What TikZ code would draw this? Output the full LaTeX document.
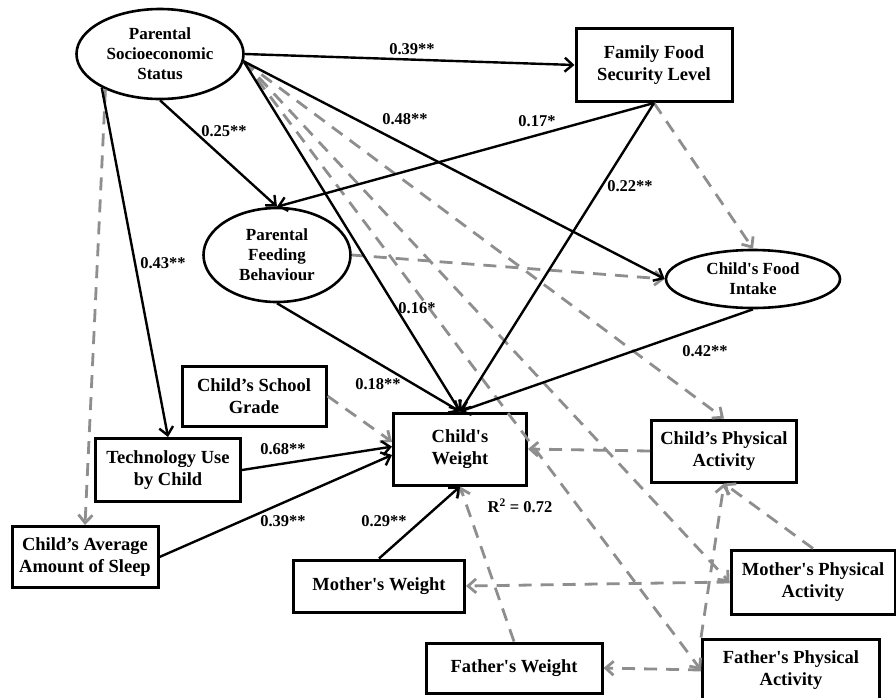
\documentclass[tikz,border=0pt]{standalone}
\usepackage{fontspec}
\setmainfont{Liberation Serif}[Ligatures=TeXOff]
\usetikzlibrary{shapes.geometric,arrows.meta}
\definecolor{covgray}{HTML}{8E8E8E}

\begin{document}
\begin{tikzpicture}[x=1pt,y=-1pt,
  box/.style={draw,line width=3pt,align=center,inner sep=0pt,font=\fontsize{18.5}{21.5}\selectfont\bfseries},
  lat/.style={draw,ellipse,line width=2.6pt,align=center,inner sep=0pt,font=\fontsize{17}{20}\selectfont\bfseries},
  coef/.style={inner sep=0pt,font=\fontsize{16.5}{18}\selectfont\bfseries},
  arr/.style={-{Straight Barb[length=8pt,width=14pt]},line width=2.4pt},
  cov/.style={-{Straight Barb[length=8pt,width=14pt]},line width=2.8pt,covgray,dash pattern=on 13pt off 9pt}]
\useasboundingbox (0,0) rectangle (896,697);
% latent variables
\node[lat,minimum width=167pt,minimum height=90pt] (ses) at (160,54) {Parental\\Socioeconomic\\Status};
\node[lat,minimum width=147pt,minimum height=94pt] (feed) at (277,255) {Parental\\Feeding\\Behaviour};
\node[lat,minimum width=174pt,minimum height=58pt] (intake) at (753,279) {Child's Food\\Intake};
% observed variables
\node[box,minimum width=156pt,minimum height=73pt] (food) at (654,65) {Family Food\\Security Level};
\node[box,minimum width=144pt,minimum height=60pt] (grade) at (254,396) {Child’s School\\Grade};
\node[box,minimum width=145pt,minimum height=63pt] (tech) at (168,470) {Technology Use\\by Child};
\node[box,minimum width=133pt,minimum height=72pt] (cw) at (460,449) {Child's\\Weight};
\node[box,minimum width=145pt,minimum height=62pt] (cpa) at (724,451) {Child’s Physical\\Activity};
\node[box,minimum width=146pt,minimum height=61pt] (sleep) at (85,557) {Child’s Average\\Amount of Sleep};
\node[box,minimum width=171pt,minimum height=52pt] (mw) at (379,586) {Mother's Weight};
\node[box,minimum width=164pt,minimum height=64pt] (mpa) at (813,582) {Mother's Physical\\Activity};
\node[box,minimum width=176pt,minimum height=50pt] (fw) at (514,668) {Father's Weight};
\node[box,minimum width=177pt,minimum height=62pt] (fpa) at (791,670) {Father's Physical\\Activity};
% non-significant paths
\draw[cov] (ses.213) -- (sleep.north);
\draw[cov] (ses.-5) -- (cpa.north);
\draw[cov] (ses.-5) -- (mpa.west);
\draw[cov] (ses.-5) -- (fpa.west);
\draw[cov] (food.south) -- (intake.north);
\draw[cov] (feed.east) -- (intake.west);
\draw[cov] (grade.east) -- (cw.174);
\draw[cov] (cpa.west) -- (cw.east);
\draw[cov] (mpa.west) -- (mw.east);
\draw[cov] (fpa.west) -- (fw.east);
\draw[cov] (fw.north) -- (cw.south);
\draw[cov] (mpa.north) -- (cpa.south);
\draw[cov] (fpa.north west) -- (cpa.south);
% significant paths
\draw[arr] (ses.east) -- (food.west);
\draw[arr] (ses.south) -- (feed.north);
\draw[arr] (ses.210) -- (tech.north);
\draw[arr] (ses.-5) -- (intake.west);
\draw[arr] (ses.-5) -- (cw.north);
\draw[arr] (food.south) -- (feed.north);
\draw[arr] (food.south) -- (cw.north);
\draw[arr] (feed.south) -- (cw.north);
\draw[arr] (intake.south) -- (cw.north);
\draw[arr] (tech.east) -- (cw.178);
\draw[arr] (sleep.east) -- (cw.185);
\draw[arr] (mw.north) -- (cw.south);
% coefficients
\node[coef] (c1) at (412,49) {0.39**};
\node[coef] (c2) at (224,131) {0.25**};
\node[coef] (c3) at (405,119) {0.48**};
\node[coef] (c4) at (537,121) {0.17*};
\node[coef] (c5) at (630,186) {0.22**};
\node[coef] (c6) at (163,263) {0.43**};
\node[coef] (c7) at (417,308) {0.16*};
\node[coef] (c8) at (378,384) {0.18**};
\node[coef] (c9) at (283,449) {0.68**};
\node[coef] (c10) at (705,351) {0.42**};
\node[coef] (c11) at (283,521) {0.39**};
\node[coef] (c12) at (384,521) {0.29**};
\node[coef] (r2) at (520,506) {R\textsuperscript{2} = 0.72};
\end{tikzpicture}
\end{document}
